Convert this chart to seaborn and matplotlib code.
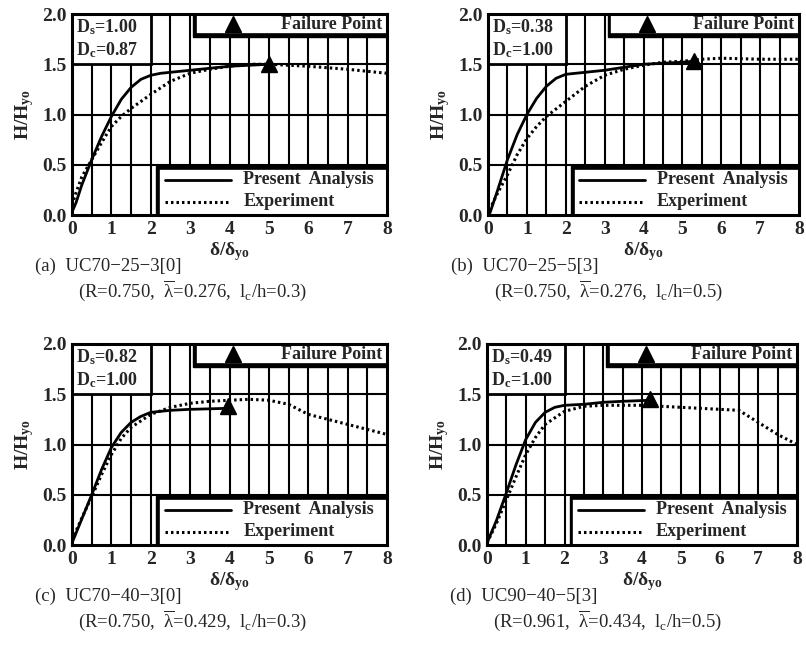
import matplotlib
matplotlib.use("Agg")
import matplotlib.pyplot as plt
from matplotlib.patches import Rectangle
import seaborn as sns
import pandas as pd
import numpy as np

sns.set_style("white")
plt.rcParams['font.family'] = ['Liberation Serif', 'DejaVu Serif']
plt.rcParams['mathtext.fontset'] = 'custom'
plt.rcParams['mathtext.rm'] = 'Liberation Serif'
plt.rcParams['mathtext.bf'] = 'Liberation Serif:bold'
plt.rcParams['mathtext.default'] = 'regular'

# data
# (a) UC70-25-3[0]
a_ana_x = [0, 0.1, 0.25, 0.5, 0.75, 1.0, 1.25, 1.5, 1.75, 2.0, 2.25, 2.5, 3.0, 3.5, 4.0, 4.5, 5.0]
a_ana_y = [0.03, 0.12, 0.3, 0.55, 0.78, 0.98, 1.15, 1.27, 1.35, 1.39, 1.41, 1.42, 1.44, 1.46, 1.48, 1.49, 1.5]
a_exp_x = [0, 0.1, 0.25, 0.5, 0.75, 1.0, 1.25, 1.5, 2.0, 2.5, 3.0, 3.5, 4.0, 4.5, 5.0, 6.0, 7.0, 8.0]
a_exp_y = [0.1, 0.22, 0.38, 0.55, 0.72, 0.88, 0.98, 1.06, 1.2, 1.33, 1.41, 1.45, 1.48, 1.5, 1.5, 1.48, 1.45, 1.41]
a_fail = (5.0, 1.5)

# (b) UC70-25-5[3]
b_ana_x = [0.05, 0.25, 0.5, 0.75, 1.0, 1.25, 1.5, 1.75, 2.0, 2.5, 3.0, 3.5, 4.0, 4.5, 5.0, 5.3]
b_ana_y = [0.02, 0.25, 0.55, 0.8, 1.0, 1.16, 1.28, 1.36, 1.4, 1.42, 1.44, 1.47, 1.5, 1.51, 1.52, 1.53]
b_exp_x = [0.1, 0.25, 0.5, 0.75, 1.0, 1.25, 1.5, 2.0, 2.5, 3.0, 3.5, 4.0, 4.5, 5.0, 5.5, 6.0, 7.0, 8.0]
b_exp_y = [0.1, 0.22, 0.4, 0.6, 0.76, 0.88, 0.98, 1.13, 1.28, 1.39, 1.45, 1.49, 1.52, 1.53, 1.55, 1.56, 1.55, 1.55]
b_fail = (5.3, 1.53)

# (c) UC70-40-3[0]
c_ana_x = [0, 0.25, 0.5, 0.75, 1.0, 1.25, 1.5, 1.75, 2.0, 2.5, 3.0, 3.5, 3.95]
c_ana_y = [0.02, 0.26, 0.5, 0.75, 0.97, 1.12, 1.22, 1.28, 1.32, 1.34, 1.35, 1.355, 1.36]
c_exp_x = [0, 0.25, 0.5, 0.75, 1.0, 1.25, 1.5, 2.0, 2.5, 3.0, 3.5, 4.0, 4.5, 5.0, 5.5, 6.0, 6.5, 7.0, 7.5, 8.0]
c_exp_y = [0.05, 0.27, 0.48, 0.7, 0.9, 1.06, 1.17, 1.3, 1.37, 1.41, 1.43, 1.44, 1.45, 1.44, 1.4, 1.3, 1.25, 1.2, 1.15, 1.1]
c_fail = (3.95, 1.38)

# (d) UC90-40-5[3]
d_ana_x = [0, 0.25, 0.5, 0.75, 1.0, 1.25, 1.5, 1.75, 2.0, 2.5, 3.0, 3.5, 4.2]
d_ana_y = [0.02, 0.25, 0.52, 0.8, 1.05, 1.22, 1.32, 1.37, 1.39, 1.4, 1.42, 1.43, 1.44]
d_exp_x = [0, 0.25, 0.5, 0.75, 1.0, 1.25, 1.5, 2.0, 2.5, 3.0, 4.0, 5.0, 6.0, 6.5, 7.0, 7.5, 8.0]
d_exp_y = [0.02, 0.22, 0.45, 0.68, 0.9, 1.07, 1.2, 1.33, 1.38, 1.39, 1.39, 1.37, 1.35, 1.34, 1.22, 1.1, 1.0]
d_fail = (4.2, 1.45)

ds_vals = ["1.00", "0.38", "0.82", "0.49"]
dc_vals = ["0.87", "1.00", "1.00", "1.00"]
labels = ["(a)  UC70\u221225\u22123[0]", "(b)  UC70\u221225\u22125[3]",
          "(c)  UC70\u221240\u22123[0]", "(d)  UC90\u221240\u22125[3]"]
params = [("0.750", "0.276", "0.3"), ("0.750", "0.276", "0.5"),
          ("0.750", "0.429", "0.3"), ("0.961", "0.434", "0.5")]

panels = [
    (a_ana_x, a_ana_y, a_exp_x, a_exp_y, a_fail),
    (b_ana_x, b_ana_y, b_exp_x, b_exp_y, b_fail),
    (c_ana_x, c_ana_y, c_exp_x, c_exp_y, c_fail),
    (d_ana_x, d_ana_y, d_exp_x, d_exp_y, d_fail),
]

W, H = 806, 661
# axes boxes in pixels: left, right, top, bottom
boxes = [(72, 387, 14, 215), (488, 799, 14, 215),
         (72, 387, 344, 545), (487, 797, 344, 545)]

fig = plt.figure(figsize=(W / 100, H / 100), dpi=100)
dots = (0, (0.8, 1.0))

for i, (l, r, t, b) in enumerate(boxes):
    ax = fig.add_axes([l / W, 1 - b / H, (r - l) / W, (b - t) / H])
    ana_x, ana_y, exp_x, exp_y, fail = panels[i]

    for v in np.arange(0.5, 8, 0.5):
        ax.axvline(v, color='black', lw=1.5, zorder=1)
    for v in [0.5, 1.0, 1.5]:
        ax.axhline(v, color='black', lw=1.5, zorder=1)

    df_a = pd.DataFrame({'x': ana_x, 'y': ana_y})
    df_e = pd.DataFrame({'x': exp_x, 'y': exp_y})
    sns.lineplot(data=df_a, x='x', y='y', ax=ax, color='black', lw=2.0,
                 sort=False, estimator=None, zorder=3)
    sns.lineplot(data=df_e, x='x', y='y', ax=ax, color='black', lw=2.2,
                 linestyle=dots, sort=False, estimator=None, zorder=3)
    ax.plot([fail[0]], [fail[1]], marker='^', color='black', ms=11, zorder=4)

    ax.set_xlim(0, 8)
    ax.set_ylim(0, 2)
    ax.set_xticks(range(0, 9))
    ax.set_yticks([0, 0.5, 1.0, 1.5, 2.0])
    ax.set_yticklabels(['0.0', '0.5', '1.0', '1.5', '2.0'])
    ax.tick_params(length=0, labelsize=14, pad=4)
    for lab in ax.get_xticklabels() + ax.get_yticklabels():
        lab.set_fontweight('bold')
    for s in ax.spines.values():
        s.set_linewidth(2.2)
        s.set_color('black')
        s.set_zorder(6)
    ax.set_xlabel('\u03b4/\u03b4$_{yo}$', fontsize=14, fontweight='bold', labelpad=2)
    ax.set_ylabel('H/H$_{yo}$', fontsize=14, fontweight='bold', labelpad=4)

    # D_s / D_c box
    ax.add_patch(Rectangle((0, 1.5), 2.0, 0.5, facecolor='white', edgecolor='black',
                           lw=2.0, zorder=5))
    ax.text(0.1, 1.87, 'D$_s$=' + ds_vals[i], fontsize=13, fontweight='bold',
            va='center', zorder=6)
    ax.text(0.1, 1.64, 'D$_c$=' + dc_vals[i], fontsize=13, fontweight='bold',
            va='center', zorder=6)

    # failure point box (with thin shadow)
    ax.add_patch(Rectangle((3.08, 1.775), 4.92, 0.225, facecolor='black', edgecolor='black',
                           lw=1.0, zorder=5))
    ax.add_patch(Rectangle((3.15, 1.8), 4.85, 0.2, facecolor='white', edgecolor='black',
                           lw=1.2, zorder=5))
    ax.plot([4.1], [1.9], marker='^', color='black', ms=11, zorder=6)
    ax.text(7.88, 1.9, 'Failure Point', fontsize=13, fontweight='bold',
            ha='right', va='center', zorder=6)

    # line legend box (with thin shadow)
    ax.add_patch(Rectangle((2.13, 0), 5.87, 0.485, facecolor='black', edgecolor='black',
                           lw=1.0, zorder=5))
    ax.add_patch(Rectangle((2.2, 0.0), 5.8, 0.46, facecolor='white', edgecolor='black',
                           lw=1.2, zorder=5))
    ax.plot([2.35, 4.05], [0.35, 0.35], color='black', lw=2.0, zorder=6)
    ax.plot([2.35, 4.05], [0.13, 0.13], color='black', lw=2.2, linestyle=dots, zorder=6)
    ax.text(4.35, 0.35, 'Present  Analysis', fontsize=13, fontweight='bold',
            va='center', zorder=6)
    ax.text(4.35, 0.13, 'Experiment', fontsize=13, fontweight='bold',
            va='center', zorder=6)

    # caption under the panel
    R, lam, lc = params[i]
    fig.text((l - 37) / W, 1 - (b + 51) / H, labels[i], fontsize=13.5, va='center')
    fig.text((l + 6) / W, 1 - (b + 76) / H,
             '(R=' + R + ',  $\\overline{\\lambda}$=' + lam + ',  l$_c$/h=' + lc + ')',
             fontsize=13.5, va='center')

fig.savefig('out.png', dpi=100)
